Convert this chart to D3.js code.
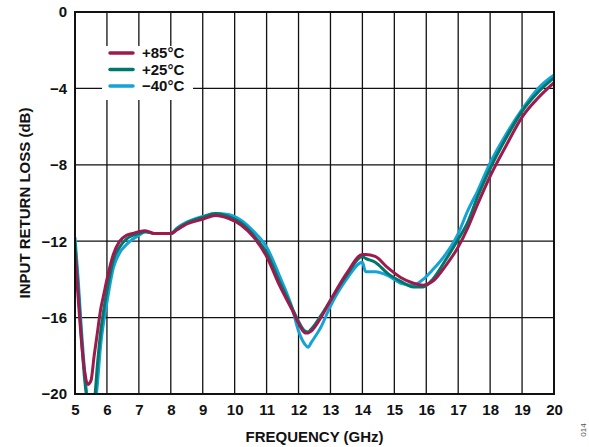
<!DOCTYPE html>
<html>
<head>
<meta charset="utf-8">
<script src="https://cdn.jsdelivr.net/npm/d3@7"></script>
<style>
  body { margin: 0; background: #fff; }
  text { font-family: "Liberation Sans", Arial, sans-serif; }
</style>
</head>
<body>
<svg id="chart"></svg>
<script>
// frequency points (GHz) shared by the three curves
const freq = [5.0, 5.1, 5.2, 5.3, 5.4, 5.5, 5.6, 5.7, 5.8, 5.9, 6.0, 6.2, 6.4, 6.6, 6.8, 7.0, 7.2, 7.5,
  8.0, 8.2, 8.5, 9.0, 9.4, 9.8, 10.2, 10.6, 11.0, 11.4, 11.8, 12.0, 12.2, 12.3, 12.4, 12.7, 13.0, 13.5,
  14.0, 14.1, 14.4, 14.8, 15.2, 15.6, 15.9, 16.2, 16.6, 17.0, 17.3, 17.6, 18.0, 18.5, 19.0, 19.5, 20.0];

const lossP85 = [-12.6, -15.0, -17.2, -18.8, -19.5, -19.3, -18.0, -16.8, -15.6, -14.8, -14.0, -12.7, -12.0, -11.7, -11.6, -11.5, -11.45, -11.6,
  -11.6, -11.4, -11.1, -10.85, -10.65, -10.8, -11.15, -11.8, -12.8, -14.3, -15.6, -16.3, -16.8, -16.8, -16.7, -16.0, -15.1, -13.7,
  -12.7, -12.7, -12.8, -13.4, -13.9, -14.2, -14.3, -14.1, -13.3, -12.3, -11.3, -10.1, -8.6, -7.0, -5.5, -4.5, -3.7];

const lossP25 = [-12.1, -14.5, -17.0, -19.2, -20.5, -21.0, -20.5, -18.5, -16.8, -15.6, -14.6, -13.0, -12.3, -11.9, -11.7, -11.6, -11.5, -11.6,
  -11.6, -11.35, -11.05, -10.75, -10.55, -10.7, -11.05, -11.7, -12.6, -14.1, -15.5, -16.2, -16.7, -16.75, -16.6, -15.9, -15.1, -13.8,
  -12.8, -12.9, -13.1, -13.7, -14.1, -14.4, -14.4, -14.0, -13.0, -11.9, -11.0, -9.7, -8.2, -6.6, -5.2, -4.2, -3.45];

const lossM40 = [-11.8, -14.0, -16.6, -18.8, -20.5, -21.2, -21.0, -19.5, -17.5, -16.2, -15.2, -13.4, -12.6, -12.2, -11.9, -11.7, -11.5, -11.6,
  -11.6, -11.3, -11.0, -10.7, -10.55, -10.6, -10.9, -11.5, -12.3, -13.8, -15.5, -16.7, -17.4, -17.55, -17.3, -16.5, -15.4, -14.0,
  -13.1, -13.6, -13.6, -13.8, -14.2, -14.3, -14.0, -13.5, -12.7, -11.6, -10.4, -9.4, -7.9, -6.4, -5.1, -4.0, -3.3];

const seriesNames = ["+85°C", "+25°C", "\u221240°C"];
const seriesColors = ["#9e1a4c", "#00776b", "#14a3d6"];
const xTicks = d3.range(5, 21, 1);
const yTicks = [0, -4, -8, -12, -16, -20];

const width = 589, height = 447;
const margin = { top: 12, right: 35, bottom: 53, left: 75 };
const w = width - margin.left - margin.right;
const h = height - margin.top - margin.bottom;

const svg = d3.select("#chart").attr("width", width).attr("height", height);
const chart = svg.append("g").attr("transform", `translate(${margin.left},${margin.top})`);

const x = d3.scaleLinear().domain([5, 20]).range([0, w]);
const y = d3.scaleLinear().domain([-20, 0]).range([h, 0]);

// grid
chart.append("g")
  .selectAll("line.vgrid")
  .data(xTicks)
  .join("line")
  .attr("x1", d => x(d)).attr("x2", d => x(d))
  .attr("y1", 0).attr("y2", h)
  .attr("stroke", "#111").attr("stroke-width", 1.3);

chart.append("g")
  .selectAll("line.hgrid")
  .data(yTicks)
  .join("line")
  .attr("x1", 0).attr("x2", w)
  .attr("y1", d => y(d)).attr("y2", d => y(d))
  .attr("stroke", "#111").attr("stroke-width", 1.3);

// axes labels
const xAxis = d3.axisBottom(x).tickValues(xTicks).tickSize(0).tickPadding(10).tickFormat(d3.format("d"));
const yAxis = d3.axisLeft(y).tickValues(yTicks).tickSize(0).tickPadding(8)
  .tickFormat(d => d < 0 ? "\u2212" + Math.abs(d) : d);

const gx = chart.append("g").attr("transform", `translate(0,${h})`).call(xAxis);
const gy = chart.append("g").call(yAxis);
[gx, gy].forEach(g => {
  g.select(".domain").remove();
  g.selectAll("text")
    .attr("font-family", "'Liberation Sans', Arial, sans-serif")
    .attr("font-size", 15).attr("font-weight", "bold").attr("fill", "#111");
});

// legend background (breaks the grid line)
const legend = chart.append("g").attr("transform", "translate(27,34)");
legend.append("rect")
  .attr("x", 0).attr("y", 0).attr("width", 91).attr("height", 54)
  .attr("fill", "#fff");

// curves
chart.append("clipPath").attr("id", "plotclip")
  .append("rect").attr("width", w).attr("height", h);

const line = d3.line()
  .x(d => x(d[0]))
  .y(d => y(d[1]))
  .curve(d3.curveMonotoneX);

const allSeries = [lossM40, lossP25, lossP85];
const colorOrder = [seriesColors[2], seriesColors[1], seriesColors[0]];
chart.append("g").attr("clip-path", "url(#plotclip)")
  .selectAll("path")
  .data(allSeries)
  .join("path")
  .attr("d", vals => line(freq.map((f, i) => [f, vals[i]])))
  .attr("fill", "none")
  .attr("stroke", (d, i) => colorOrder[i])
  .attr("stroke-width", 3)
  .attr("stroke-linejoin", "round");

// frame
chart.append("rect")
  .attr("width", w).attr("height", h)
  .attr("fill", "none").attr("stroke", "#111").attr("stroke-width", 2);

// legend items
seriesNames.forEach((name, i) => {
  const ly = 7 + i * 16.5;
  legend.append("line")
    .attr("x1", 8).attr("x2", 31).attr("y1", ly).attr("y2", ly)
    .attr("stroke", seriesColors[i]).attr("stroke-width", 3.5)
    .attr("stroke-linecap", "round");
  legend.append("text")
    .attr("x", 40).attr("y", ly).attr("dy", "0.36em")
    .attr("font-size", 15).attr("font-weight", "bold").attr("fill", "#111")
    .text(name);
});

// axis titles
svg.append("text")
  .attr("x", margin.left + w / 2).attr("y", 442)
  .attr("text-anchor", "middle")
  .attr("font-size", 15).attr("font-weight", "bold").attr("fill", "#111")
  .text("FREQUENCY (GHz)");

svg.append("text")
  .attr("transform", `translate(30,${margin.top + h / 2}) rotate(-90)`)
  .attr("text-anchor", "middle")
  .attr("font-size", 15).attr("font-weight", "bold").attr("fill", "#111")
  .text("INPUT RETURN LOSS (dB)");

svg.append("text")
  .attr("transform", "translate(586,430) rotate(-90)")
  .attr("text-anchor", "middle")
  .attr("font-size", 8).attr("fill", "#555")
  .text("014");
</script>
</body>
</html>
